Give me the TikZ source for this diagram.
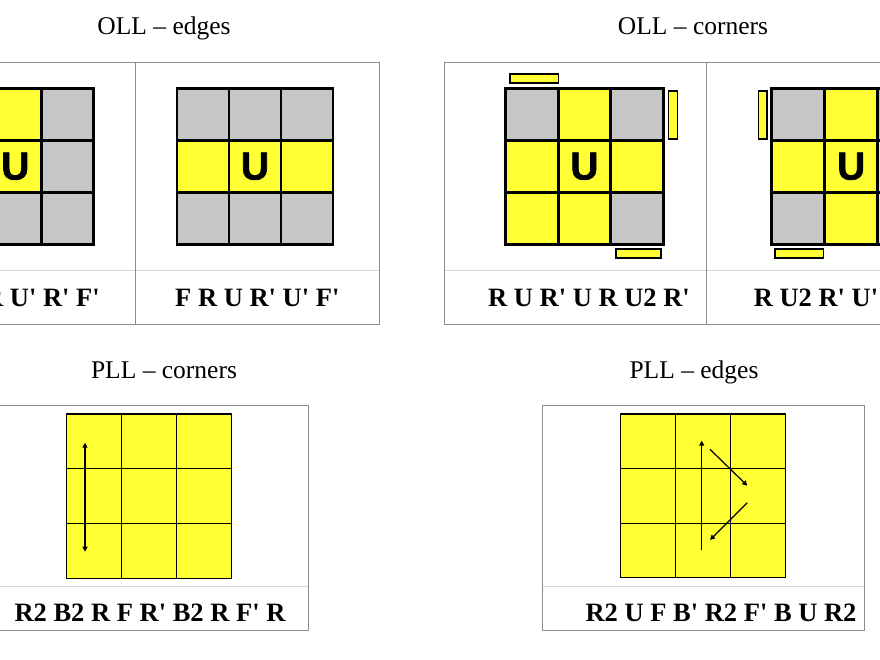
\documentclass[tikz,border=0pt]{standalone}
\usepackage{fontspec}
\setmainfont{Liberation Serif}
\newfontfamily\algfont{Liberation Serif Bold}
\newfontfamily\ufont{Liberation Sans Bold}[FakeBold=1.6]
\usetikzlibrary{arrows.meta}
\definecolor{cy}{RGB}{255,255,51}
\definecolor{cg}{RGB}{198,198,198}
\definecolor{tborder}{RGB}{140,140,140}
\definecolor{tdiv}{RGB}{215,215,215}
\tikzset{
  title/.style={font=\fontsize{25.5}{28}\selectfont, anchor=base, inner sep=0pt},
  alg/.style={font=\algfont\fontsize{26.5}{30}\selectfont, anchor=base, inner sep=0pt},
  ulabel/.style={font=\ufont\fontsize{39}{40}\selectfont, inner sep=0pt},
  thickgrid/.style={line width=2.8pt, black},
  thingrid/.style={line width=1.2pt, black},
  tableframe/.style={draw=tborder, line width=1pt},
  tabledivider/.style={draw=tdiv, line width=1pt},
  sticker/.style={fill=cy, draw=black, line width=1.6pt},
  movearrow/.style={line width=1.2pt, black, -{Triangle[width=5pt,length=5pt]}},
  movedouble/.style={line width=1.2pt, black, {Triangle[width=5pt,length=5pt]}-{Triangle[width=5pt,length=5pt]}}
}
\newcommand\gridlines[1]{%
  \foreach \k in {1,2} {
    \draw[#1] (\k,0) -- (\k,3);
    \draw[#1] (0,\k) -- (3,\k);
  }
  \draw[#1] (0,0) rectangle (3,3);
}
\newcommand\graycell[2]{\fill[cg] (#1,#2) rectangle ++(1,1);}
\begin{document}
\begin{tikzpicture}[x=1pt,y=-1pt]
\useasboundingbox (0,0) rectangle (880,660);
\clip (0,0) rectangle (880,660);
\fill[white] (0,0) rectangle (880,660);

% ---------- titles ----------
\node[title] (t1) at (164,35) {OLL – edges};
\node[title] (t2) at (693,35) {OLL – corners};
\node[title] (t3) at (164,378.3) {PLL – corners};
\node[title] (t4) at (694,378.3) {PLL – edges};

% ---------- tables ----------
\draw[tabledivider] (-108.7,270.7) -- (379.3,270.7);
\draw[tableframe] (-108.7,62.3) rectangle (379.3,324);
\draw[tableframe] (135.3,62.3) -- (135.3,324);
\draw[tabledivider] (444,270.7) -- (968,270.7);
\draw[tableframe] (444,62.3) rectangle (968,324);
\draw[tableframe] (706,62.3) -- (706,324);
\draw[tabledivider] (-10,586.7) -- (308.3,586.7);
\draw[tableframe] (-10,405) rectangle (308.3,630.7);
\draw[tabledivider] (542.7,586.7) -- (864,586.7);
\draw[tableframe] (542.7,405) rectangle (864,630.2);

% ---------- OLL edges, case 1 ----------
\begin{scope}[shift={(-62.7,88.3)}, x=52pt, y=-52pt]
  \fill[cy] (0,0) rectangle (3,3);
  \graycell{0}{0} \graycell{2}{0} \graycell{2}{1} \graycell{0}{2} \graycell{1}{2} \graycell{2}{2}
  \gridlines{thickgrid}
  \node[ulabel] (u1) at (1.5,1.5) {U};
\end{scope}
% ---------- OLL edges, case 2 ----------
\begin{scope}[shift={(177,88.3)}, x=52pt, y=-52pt]
  \fill[cy] (0,0) rectangle (3,3);
  \graycell{0}{0} \graycell{1}{0} \graycell{2}{0} \graycell{0}{2} \graycell{1}{2} \graycell{2}{2}
  \gridlines{thickgrid}
  \node[ulabel] (u2) at (1.5,1.5) {U};
\end{scope}
% ---------- OLL corners, Sune ----------
\begin{scope}[shift={(505.7,88.3)}, x=52.5pt, y=-52pt]
  \fill[cy] (0,0) rectangle (3,3);
  \graycell{0}{0} \graycell{2}{0} \graycell{2}{2}
  \gridlines{thickgrid}
  \node[ulabel] (u3) at (1.5,1.5) {U};
\end{scope}
\draw[sticker] (510,74.3) rectangle (558.3,83.3);
\draw[sticker] (668.3,91) rectangle (677.3,139.3);
\draw[sticker] (615.7,249) rectangle (660.7,258.3);
% ---------- OLL corners, Antisune ----------
\begin{scope}[shift={(771.7,88.3)}, x=53pt, y=-52pt]
  \fill[cy] (0,0) rectangle (3,3);
  \graycell{0}{0} \graycell{2}{0} \graycell{0}{2}
  \gridlines{thickgrid}
  \node[ulabel] (u4) at (1.5,1.5) {U};
\end{scope}
\draw[sticker] (758.3,91) rectangle (766.7,139.3);
\draw[sticker] (775,249) rectangle (823.3,258.3);
\draw[sticker] (884,74.3) rectangle (930,83.3);

% ---------- PLL corners ----------
\begin{scope}[shift={(66.7,414)}, x=55pt, y=-54.8pt]
  \fill[cy] (0,0) rectangle (3,3);
  \gridlines{thingrid}
\end{scope}
\coordinate (ca) at (85,442.7);
\coordinate (cb) at (85,551.7);
\draw[movedouble] (ca) -- (cb);

% ---------- PLL edges ----------
\begin{scope}[shift={(620.7,414)}, x=54.8pt, y=-54.6pt]
  \fill[cy] (0,0) rectangle (3,3);
  \gridlines{thingrid}
\end{scope}
\coordinate (ea) at (701.7,550);
\coordinate (eb) at (701.7,440.7);
\coordinate (ec) at (710,449.3);
\coordinate (ed) at (747.3,485.7);
\coordinate (ee) at (747.3,502.7);
\coordinate (ef) at (710,540);
\draw[movearrow] (ea) -- (eb);
\draw[movearrow] (ec) -- (ed);
\draw[movearrow] (ee) -- (ef);

% ---------- algorithms ----------
\node[alg] (a1) at (17.7,306.7) {F U R U' R' F'};
\node[alg] (a2) at (257.3,306.7) {F R U R' U' F'};
\node[alg] (a3) at (589,306.7) {R U R' U R U2 R'};
\node[alg] (a4) at (862,306.7) {R U2 R' U' R U' R'};
\node[alg] (a5) at (150,621.7) {R2 B2 R F R' B2 R F' R};
\node[alg] (a6) at (721,621.7) {R2 U F B' R2 F' B U R2};
\end{tikzpicture}
\end{document}
